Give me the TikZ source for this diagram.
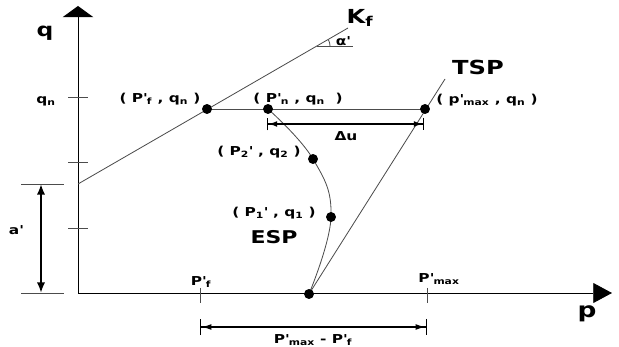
\documentclass[tikz,border=0pt]{standalone}
\usepackage{fontspec}
\setmainfont{DejaVu Sans}[FakeStretch=1.25]
\usetikzlibrary{arrows.meta}
\newcommand{\ap}{\textquotesingle}
\tikzset{
  dot/.style={circle,fill,inner sep=0pt,minimum width=8.5pt,minimum height=7.5pt},
  thinline/.style={draw=black!70,line width=0.7pt},
  dimline/.style={line width=1.7pt},
  lbl/.style={font=\bfseries\fontsize{10.5}{12}\selectfont,inner sep=0pt},
  big/.style={font=\bfseries\fontsize{16.5}{18}\selectfont,inner sep=0pt}
}
\begin{document}
\begin{tikzpicture}[x=0.03cm,y=-0.03cm]
\useasboundingbox (0,0) rectangle (619,347);
\coordinate (org) at (78,293);
\coordinate (ytop) at (78,6);
\coordinate (xend) at (612,293);
\coordinate (k0) at (78,184);
\coordinate (k1) at (348,28);
\coordinate (t1) at (445,79);
\coordinate (cPf) at (207,109);
\coordinate (cPn) at (268,109);
\coordinate (cPm) at (425,109);
\coordinate (cP2) at (313,159);
\coordinate (cP1) at (331,217);
\coordinate (cO) at (309,294);
\draw[line width=0.8pt,-{Triangle[length=9.5pt,width=26pt]}] (org) -- (ytop);
\draw[line width=0.8pt,-{Triangle[length=16pt,width=17pt]}] (org) -- (xend);
\draw[thinline] (68,97) -- (88,97);
\draw[thinline] (68,162) -- (88,162);
\draw[thinline] (68,228) -- (88,228);
\draw[thinline] (21,184) coordinate (a0) -- (64,184);
\draw[thinline] (21,293) coordinate (a1) -- (64,293);
\draw[thinline] (200,288) -- (200,303);
\draw[thinline] (427,288) -- (427,303);
\draw[thinline] (k0) -- (k1);
\draw[thinline] (317,46) coordinate (kc) -- (353,46);
\draw[thinline] ([xshift=13*0.03cm]kc) arc[start angle=0,end angle=-30,radius=13];
\draw[thinline] (cPf) -- (cPm);
\draw[thinline] (cO) -- (t1);
\draw[thinline] plot[smooth,tension=0.7] coordinates {(cPn) (cP2) (cP1) (cO)};
\coordinate (u0) at (267,124);
\coordinate (u1) at (424,124);
\draw[dimline,{Bar[width=11pt,line width=0.7pt]Latex[length=8pt,width=5pt]}-{Latex[length=8pt,width=5pt]Bar[width=11pt,line width=0.7pt]}] (u0) -- (u1);
\coordinate (d0) at (200,327);
\coordinate (d1) at (427,327);
\draw[dimline,{Bar[width=14pt,line width=0.7pt]Latex[length=9pt,width=5pt]}-{Latex[length=9pt,width=5pt]Bar[width=14pt,line width=0.7pt]}] (d0) -- (d1);
\coordinate (v0) at (41,184);
\coordinate (v1) at (41,293);
\draw[dimline,{Latex[length=9pt,width=7pt]}-{Latex[length=9pt,width=7pt]}] (v0) -- (v1);
\foreach \c/\n in {cPf/Pf,cPn/Pn,cPm/Pm,cP2/P2,cP1/P1,cO/O}
  \node[dot] (\n) at (\c) {};
\node[big,font=\bfseries\fontsize{16}{16}\selectfont] (qlab) at (45,33) {q};
\node[big,font=\bfseries\fontsize{18}{18}\selectfont] (plab) at (587,314) {p};
\node[lbl] (qn) at (46,101) {q\textsubscript{n}};
\node[lbl] (alab) at (16,230) {a\ap};
\node[big] (kf) at (360,18) {K\textsubscript{f}};
\node[lbl] (alpha) at (343,41) {α\ap};
\node[big] (tsp) at (478,67) {TSP};
\node[big,font=\bfseries\fontsize{15}{16}\selectfont] (esp) at (274,237) {ESP};
\node[lbl] (lPf) at (160,99) {(\ P\ap\textsubscript{f}\ ,\ q\textsubscript{n}\ )};
\node[lbl] (lPn) at (298,99) {(\ P\ap\textsubscript{n}\ ,\ q\textsubscript{n}\ \ )};
\node[lbl] (lPm) at (487,100) {(\ p\ap\textsubscript{max}\ ,\ q\textsubscript{n}\ )};
\node[lbl] (lP2) at (259,152) {(\ P\textsubscript{2}\ap\ ,\ q\textsubscript{2}\ )};
\node[lbl] (lP1) at (274,213) {(\ P\textsubscript{1}\ap\ ,\ q\textsubscript{1}\ )};
\node[lbl] (du) at (346,136) {Δu};
\node[lbl] (lf) at (201,282) {P\ap\textsubscript{f}};
\node[lbl] (lmax) at (439,279) {P\ap\textsubscript{max}};
\node[lbl] (ldiff) at (313,340) {P\ap\textsubscript{max}\ -\ P\ap\textsubscript{f}};
\end{tikzpicture}
\end{document}
